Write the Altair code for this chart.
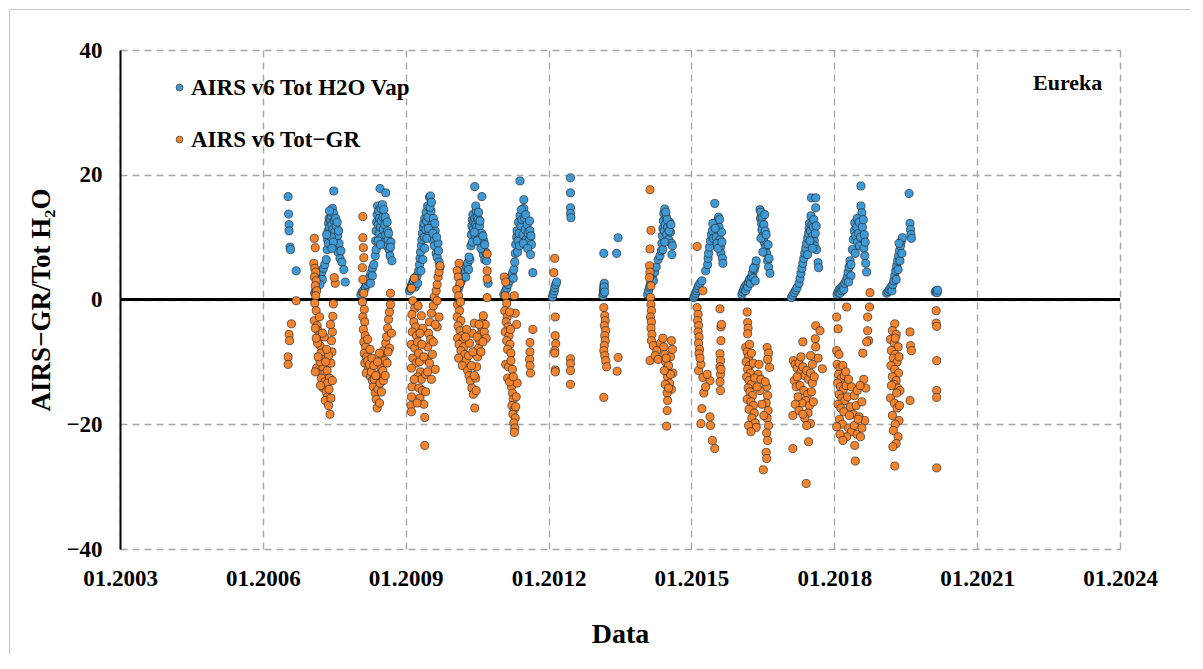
import altair as alt
import pandas as pd

S_H2O = "AIRS v6 Tot H2O Vap"
S_GR = "AIRS v6 Tot\u2212GR"
X_TICKS = [2003, 2006, 2009, 2012, 2015, 2018, 2021, 2024]
Y_TICKS = [-40, -20, 0, 20, 40]

# ---- AIRS v6 Tot H2O Vap (decimal year, value) ----
h2o_2006 = [(2006.53,16.5),(2006.54,13.7),(2006.55,12.0),(2006.55,11.0),(2006.57,8.4),(2006.58,8.0),(2006.70,4.6)]
h2o_2007 = [(2007.09,1.0),(2007.11,1.4),(2007.13,1.9),(2007.15,2.3),(2007.17,2.8),(2007.19,3.3),(2007.21,3.9),(2007.24,4.4),(2007.27,5.0),(2007.30,5.6),(2007.33,6.4),(2007.35,8.0),(2007.36,9.6),(2007.37,11.0),(2007.38,12.2),(2007.39,13.0),(2007.40,11.6),(2007.41,10.4),(2007.42,12.8),(2007.43,14.0),(2007.44,13.4),(2007.45,12.0),(2007.46,14.6),(2007.47,11.2),(2007.49,17.4),(2007.49,13.8),(2007.50,12.6),(2007.51,10.8),(2007.52,9.6),(2007.54,11.8),(2007.55,8.8),(2007.57,10.2),(2007.58,7.6),(2007.60,9.0),(2007.62,6.6),(2007.64,7.8),(2007.66,6.0),(2007.70,4.8),(2007.73,2.8),
            (2007.38,9.0),(2007.40,14.2),(2007.44,10.0),(2007.48,9.2),(2007.53,13.0),(2007.56,12.4),(2007.59,11.0),(2007.45,8.2),(2007.34,10.4),(2007.25,3.2),(2007.20,2.4)]
h2o_2008 = [(2008.06,0.8),(2008.09,1.2),(2008.12,1.5),(2008.15,1.9),(2008.18,2.4),(2008.21,2.9),(2008.24,3.5),(2008.27,4.2),(2008.30,5.0),(2008.33,5.6),(2008.36,7.0),(2008.37,9.4),(2008.38,11.0),(2008.39,12.4),(2008.40,13.6),(2008.41,15.0),(2008.42,12.0),(2008.43,14.2),(2008.44,10.6),(2008.45,13.0),(2008.46,17.8),(2008.47,11.6),(2008.48,14.6),(2008.49,12.6),(2008.50,10.0),(2008.52,13.2),(2008.53,11.2),(2008.55,9.2),(2008.56,12.0),(2008.58,17.1),(2008.58,10.4),(2008.60,8.6),(2008.62,11.0),(2008.63,9.6),(2008.65,8.0),(2008.67,7.0),(2008.69,9.2),(2008.71,6.2),
            (2008.38,8.0),(2008.42,9.4),(2008.47,8.8),(2008.51,15.2),(2008.54,14.4),(2008.57,13.2),(2008.61,12.4),(2008.64,10.6),(2008.68,8.4),(2008.30,3.8),(2008.26,2.6)]
h2o_2009 = [(2009.08,1.4),(2009.10,1.8),(2009.12,2.2),(2009.14,2.6),(2009.16,3.0),(2009.18,3.4),(2009.21,3.2),(2009.24,3.8),(2009.27,4.6),(2009.29,5.6),(2009.30,6.6),(2009.31,7.6),(2009.33,8.6),(2009.34,9.6),(2009.35,10.6),(2009.37,11.6),(2009.38,12.2),(2009.39,10.0),(2009.40,13.0),(2009.42,11.2),(2009.43,14.0),(2009.44,12.6),(2009.46,15.0),(2009.47,13.2),(2009.49,10.8),(2009.50,16.4),(2009.52,16.6),(2009.53,14.2),(2009.55,12.0),(2009.56,9.6),(2009.58,13.0),(2009.60,8.6),(2009.62,11.0),(2009.64,7.4),(2009.66,6.8),(2009.68,9.0),(2009.70,6.0),(2009.72,5.2),
            (2009.32,4.6),(2009.36,6.4),(2009.40,8.2),(2009.44,9.8),(2009.48,11.4),(2009.51,14.8),(2009.54,15.6),(2009.57,10.6),(2009.61,12.2),(2009.65,10.0),(2009.69,7.8),(2009.20,2.0),(2009.25,2.6)]
h2o_2010 = [(2010.10,1.6),(2010.13,2.2),(2010.16,2.8),(2010.19,3.4),(2010.22,4.0),(2010.25,4.6),(2010.28,5.2),(2010.30,5.8),(2010.32,4.8),(2010.35,6.4),(2010.37,8.6),(2010.38,10.4),(2010.39,11.8),(2010.40,12.8),(2010.41,13.6),(2010.42,11.2),(2010.43,12.4),(2010.45,18.1),(2010.45,13.0),(2010.46,10.2),(2010.47,12.0),(2010.48,14.2),(2010.49,11.6),(2010.50,13.2),(2010.51,10.6),(2010.52,12.8),(2010.54,9.8),(2010.55,11.8),(2010.57,9.0),(2010.59,10.6),(2010.60,16.5),(2010.61,8.0),(2010.63,7.2),(2010.64,9.4),(2010.66,6.4),(2010.68,7.6),(2010.70,6.2),(2010.73,2.6),
            (2010.40,9.2),(2010.44,10.8),(2010.47,15.0),(2010.50,9.4),(2010.53,14.0),(2010.56,12.6),(2010.58,8.2),(2010.62,10.2),(2010.66,8.8),(2010.26,3.6),(2010.33,6.8)]
h2o_2011 = [(2011.06,0.8),(2011.09,1.3),(2011.12,1.8),(2011.15,2.4),(2011.18,3.0),(2011.21,3.6),(2011.24,4.2),(2011.27,4.8),(2011.29,6.0),(2011.30,7.4),(2011.31,8.8),(2011.33,10.0),(2011.34,11.0),(2011.36,9.4),(2011.37,12.4),(2011.38,10.6),(2011.40,19.0),(2011.40,13.4),(2011.42,11.8),(2011.44,12.8),(2011.46,10.4),(2011.48,16.0),(2011.48,14.6),(2011.50,13.0),(2011.51,11.2),(2011.53,9.6),(2011.55,12.0),(2011.57,10.6),(2011.59,9.4),(2011.61,11.0),(2011.63,10.2),(2011.64,8.8),(2011.67,4.3),
            (2011.35,7.6),(2011.39,8.6),(2011.43,14.4),(2011.47,9.0),(2011.52,13.6),(2011.56,8.2),(2011.60,12.6),(2011.62,7.2),(2011.26,3.4)]
h2o_2012 = [(2012.08,0.4),(2012.10,0.9),(2012.12,1.4),(2012.13,1.9),(2012.15,2.4),(2012.17,2.8),(2012.46,19.5),(2012.46,17.1),(2012.46,14.7),(2012.46,13.8),(2012.47,13.1)]
h2o_2013 = [(2013.14,0.6),(2013.15,1.0),(2013.15,1.4),(2013.16,1.8),(2013.16,2.2),(2013.17,2.6),(2013.17,2.0),(2013.18,1.2),(2013.16,7.4),(2013.43,7.4),(2013.46,9.9)]
h2o_2014 = [(2014.08,0.8),(2014.10,1.4),(2014.12,2.0),(2014.14,2.6),(2014.16,3.2),(2014.18,3.8),(2014.20,3.0),(2014.23,4.4),(2014.26,5.2),(2014.30,6.4),(2014.34,7.0),(2014.37,7.8),(2014.38,9.0),(2014.39,10.2),(2014.40,11.4),(2014.41,12.6),(2014.42,13.8),(2014.43,11.0),(2014.44,14.5),(2014.45,12.0),(2014.47,13.2),(2014.48,10.4),(2014.50,11.6),(2014.52,9.6),(2014.54,12.4),(2014.56,10.8),(2014.58,9.0),(2014.60,8.6),
            (2014.40,8.0),(2014.44,9.2),(2014.46,14.0),(2014.49,12.8),(2014.53,11.0),(2014.57,12.0),(2014.59,7.2)]
h2o_2015 = [(2015.05,0.3),(2015.07,0.6),(2015.09,1.0),(2015.11,1.4),(2015.13,1.8),(2015.15,2.2),(2015.18,2.6),(2015.22,3.0),(2015.30,4.6),(2015.34,5.6),(2015.35,6.6),(2015.36,7.4),(2015.38,8.4),(2015.40,9.4),(2015.42,10.4),(2015.44,11.0),(2015.46,9.8),(2015.49,15.4),(2015.52,10.0),(2015.55,12.6),(2015.57,13.2),(2015.58,11.6),(2015.60,9.6),(2015.61,8.4),(2015.62,7.4),(2015.63,10.8),(2015.65,6.6),(2015.66,5.8),
            (2015.45,12.2),(2015.50,11.4),(2015.54,9.0),(2015.56,8.2),(2015.59,12.8),(2015.64,9.2)]
h2o_2016 = [(2016.06,0.8),(2016.08,1.2),(2016.10,1.6),(2016.12,2.0),(2016.14,1.4),(2016.16,2.4),(2016.18,2.0),(2016.20,2.8),(2016.22,3.2),(2016.24,2.6),(2016.26,3.6),(2016.28,4.2),(2016.30,3.4),(2016.32,4.8),(2016.34,5.4),(2016.36,6.2),(2016.44,14.4),(2016.45,13.0),(2016.46,14.0),(2016.47,12.2),(2016.48,11.2),(2016.49,13.2),(2016.50,10.2),(2016.52,12.0),(2016.53,9.2),(2016.55,11.0),(2016.56,8.4),(2016.58,7.4),(2016.60,6.2),(2016.62,5.2),(2016.65,4.2),
            (2016.46,9.8),(2016.50,7.6),(2016.54,13.6),(2016.57,10.4),(2016.61,8.8),(2016.63,6.6),(2016.30,5.0),(2016.34,3.0)]
h2o_2017 = [(2017.10,0.3),(2017.13,0.7),(2017.16,1.1),(2017.19,1.5),(2017.22,1.9),(2017.26,2.6),(2017.28,3.4),(2017.30,4.2),(2017.32,5.0),(2017.34,5.8),(2017.36,6.6),(2017.38,7.4),(2017.40,8.2),(2017.42,9.0),(2017.44,9.8),(2017.46,10.6),(2017.47,11.4),(2017.48,12.2),(2017.50,11.0),(2017.52,16.3),(2017.53,12.0),(2017.55,10.2),(2017.56,11.6),(2017.58,9.4),(2017.59,8.6),(2017.61,16.3),(2017.61,14.7),(2017.63,8.0),(2017.66,5.9),(2017.67,5.1),
            (2017.44,7.2),(2017.49,9.4),(2017.51,13.4),(2017.54,8.2),(2017.57,12.8),(2017.60,10.6),(2017.62,11.8)]
h2o_2018 = [(2018.06,0.8),(2018.08,1.2),(2018.10,1.6),(2018.12,1.0),(2018.14,1.8),(2018.16,1.4),(2018.18,2.2),(2018.20,1.6),(2018.22,2.6),(2018.25,3.0),(2018.27,3.6),(2018.29,4.4),(2018.31,5.2),(2018.33,6.2),(2018.35,5.6),(2018.38,8.0),(2018.40,9.6),(2018.42,11.0),(2018.43,12.3),(2018.45,10.2),(2018.47,11.6),(2018.49,9.2),(2018.51,10.6),(2018.53,8.6),(2018.56,18.2),(2018.56,15.0),(2018.58,13.9),(2018.60,9.8),(2018.62,8.2),(2018.64,7.0),(2018.66,5.8),(2018.68,4.4),
            (2018.44,7.4),(2018.48,13.0),(2018.52,12.4),(2018.55,10.0),(2018.59,11.6),(2018.61,12.8),(2018.63,10.4),(2018.65,9.2),(2018.35,3.8),(2018.30,2.8)]
h2o_2019 = [(2019.10,1.0),(2019.13,1.3),(2019.16,1.6),(2019.19,2.0),(2019.21,1.4),(2019.23,2.4),(2019.25,3.0),(2019.27,3.8),(2019.29,4.6),(2019.31,5.4),(2019.33,6.2),(2019.35,7.0),(2019.37,7.8),(2019.39,8.6),(2019.41,9.4),(2019.43,9.9),(2019.57,17.0),(2019.59,12.2),(2019.60,11.2),(2019.61,10.4),(2019.62,9.8),
            (2019.30,3.2),(2019.34,4.8),(2019.38,6.2),(2019.42,7.4),(2019.36,9.0)]
h2o_2020 = [(2020.12,1.2),(2020.14,1.4),(2020.16,1.1),(2020.17,1.5)]

# ---- AIRS v6 Tot-GR (decimal year, value) ----
gr_2006 = [(2006.70,-0.2),(2006.60,-3.9),(2006.55,-5.6),(2006.56,-6.6),(2006.53,-9.2),(2006.53,-10.4)]
gr_2007 = [(2007.08,9.8),(2007.10,8.3),(2007.07,5.8),(2007.09,5.0),(2007.11,4.4),(2007.08,3.6),(2007.12,3.0),(2007.10,2.2),(2007.13,1.4),(2007.11,0.6),(2007.09,-0.6),(2007.12,-1.8),(2007.08,-3.4),(2007.14,-4.2),(2007.16,-5.0),(2007.10,-4.6),(2007.18,-6.2),(2007.20,-7.4),(2007.15,-7.0),(2007.22,-8.6),(2007.13,-11.0),(2007.10,-11.6),(2007.24,-9.6),(2007.26,-10.8),(2007.28,-12.0),(2007.23,-12.6),(2007.30,-13.2),(2007.27,-14.2),(2007.33,-14.8),(2007.36,-15.6),(2007.31,-16.2),(2007.38,-17.0),(2007.41,-18.4),(2007.35,-11.4),(2007.40,-12.6),(2007.43,-10.2),(2007.45,-8.4),(2007.44,-6.6),(2007.46,-5.2),(2007.42,-4.0),(2007.47,-2.7),(2007.48,-0.7),(2007.52,2.6),(2007.50,3.5),(2007.38,-9.0),(2007.34,-8.0),(2007.29,-6.0),(2007.19,-2.8),
           (2007.20,-10.0),(2007.25,-5.4),(2007.32,-10.0),(2007.36,-13.4),(2007.39,-14.4),(2007.43,-15.8),(2007.46,-13.0),(2007.16,-9.2),(2007.21,-13.8),(2007.12,-6.2)]
gr_2008 = [(2008.10,13.3),(2008.10,9.9),(2008.11,8.3),(2008.12,6.7),(2008.09,5.1),(2008.10,3.2),(2008.12,1.0),(2008.09,-0.4),(2008.13,-1.6),(2008.10,-2.8),(2008.14,-3.6),(2008.11,-4.8),(2008.15,-5.8),(2008.12,-6.8),(2008.16,-7.6),(2008.13,-8.6),(2008.18,-9.2),(2008.14,-10.2),(2008.20,-9.8),(2008.22,-11.0),(2008.17,-11.8),(2008.24,-10.4),(2008.26,-12.4),(2008.28,-11.6),(2008.30,-13.0),(2008.32,-14.0),(2008.34,-12.8),(2008.36,-15.0),(2008.38,-16.0),(2008.40,-17.4),(2008.42,-14.4),(2008.44,-12.0),(2008.46,-13.4),(2008.48,-10.8),(2008.50,-9.4),(2008.52,-11.4),(2008.54,-8.2),(2008.56,-9.8),(2008.58,-7.0),(2008.60,-6.0),(2008.62,-4.6),(2008.64,-3.2),(2008.66,-2.0),(2008.68,-0.8),(2008.68,1.0),(2008.70,-5.4),(2008.66,-7.8),(2008.45,-16.6),
           (2008.20,-6.4),(2008.25,-8.0),(2008.29,-9.4),(2008.33,-10.6),(2008.37,-12.2),(2008.41,-10.0),(2008.45,-8.6),(2008.49,-14.8),(2008.53,-13.0),(2008.57,-12.2),(2008.61,-10.2),(2008.63,-8.4)]
gr_2009 = [(2009.18,3.4),(2009.12,1.8),(2009.15,-0.2),(2009.19,-1.4),(2009.13,-2.4),(2009.17,-3.6),(2009.21,-4.4),(2009.14,-5.2),(2009.23,-5.8),(2009.12,-7.2),(2009.19,-7.8),(2009.25,-6.8),(2009.15,-9.4),(2009.27,-8.6),(2009.22,-10.2),(2009.12,-11.0),(2009.29,-10.0),(2009.31,-11.6),(2009.25,-12.4),(2009.33,-12.8),(2009.13,-14.0),(2009.28,-14.2),(2009.35,-14.6),(2009.12,-15.6),(2009.30,-15.8),(2009.11,-17.0),(2009.12,-18.0),(2009.38,-16.8),(2009.40,-18.9),(2009.40,-23.4),(2009.42,-12.0),(2009.44,-9.6),(2009.46,-7.6),(2009.48,-5.4),(2009.50,-3.6),(2009.52,-6.4),(2009.54,-2.2),(2009.56,-8.8),(2009.58,-1.0),(2009.60,0.4),(2009.62,-11.2),(2009.64,1.4),(2009.66,2.4),(2009.68,3.6),(2009.70,4.4),(2009.72,5.4),(2009.70,-2.8),(2009.66,-4.4),(2009.36,-4.6),(2009.33,-2.6),(2009.26,-1.0),
           (2009.30,-5.4),(2009.34,-7.2),(2009.38,-9.2),(2009.42,-14.8),(2009.46,-11.6),(2009.50,-10.2),(2009.54,-12.8),(2009.58,-6.8),(2009.62,-4.0),(2009.66,-0.2),(2009.18,-12.8),(2009.24,-16.6)]
gr_2010 = [(2010.12,5.8),(2010.08,4.6),(2010.10,3.6),(2010.14,2.6),(2010.07,1.6),(2010.11,0.6),(2010.09,-0.8),(2010.13,-1.8),(2010.08,-2.8),(2010.16,-3.4),(2010.10,-4.2),(2010.14,-5.0),(2010.18,-5.8),(2010.09,-6.2),(2010.20,-6.6),(2010.12,-7.2),(2010.22,-7.6),(2010.16,-8.2),(2010.24,-8.8),(2010.11,-9.4),(2010.27,-9.8),(2010.19,-10.6),(2010.30,-11.4),(2010.33,-12.2),(2010.36,-13.0),(2010.39,-14.2),(2010.42,-15.2),(2010.45,-17.4),(2010.47,-12.6),(2010.49,-10.8),(2010.51,-9.2),(2010.53,-7.8),(2010.55,-6.6),(2010.57,-5.6),(2010.59,-4.4),(2010.61,-3.6),(2010.63,-2.6),(2010.65,-5.2),(2010.67,-4.0),(2010.69,-6.2),(2010.71,0.3),(2010.71,3.3),(2010.71,4.6),(2010.71,7.3),(2010.44,-3.8),(2010.40,-5.4),(2010.34,-7.0),(2010.28,-4.8),
           (2010.26,-6.0),(2010.32,-9.0),(2010.38,-10.6),(2010.41,-8.4),(2010.44,-12.2),(2010.48,-14.6),(2010.50,-6.0),(2010.54,-4.0),(2010.58,-8.4),(2010.62,-6.8),(2010.15,-0.4)]
gr_2011 = [(2011.07,3.6),(2011.10,2.8),(2011.09,0.6),(2011.12,-0.6),(2011.08,-1.8),(2011.13,-2.8),(2011.11,-3.6),(2011.15,-4.4),(2011.09,-5.2),(2011.17,-5.8),(2011.12,-6.6),(2011.19,-7.2),(2011.14,-8.0),(2011.21,-8.6),(2011.10,-10.4),(2011.16,-10.8),(2011.24,-11.2),(2011.28,0.6),(2011.22,-14.0),(2011.24,-15.0),(2011.26,-16.0),(2011.23,-17.0),(2011.28,-17.6),(2011.25,-18.4),(2011.30,-19.0),(2011.27,-19.8),(2011.29,-20.6),(2011.28,-21.3),(2011.32,-15.6),(2011.34,-13.4),(2011.61,-6.9),(2011.61,-8.4),(2011.60,-9.6),(2011.61,-10.6),(2011.62,-11.8),(2011.67,-4.8),(2011.30,-2.2),(2011.33,-4.0),
           (2011.18,-2.0),(2011.20,-4.8),(2011.14,-12.6),(2011.18,-13.2),(2011.26,-12.4),(2011.31,-17.2),(2011.21,-9.8)]
gr_2012 = [(2012.13,6.6),(2012.11,4.3),(2012.14,-2.8),(2012.14,-5.8),(2012.15,-7.1),(2012.13,-8.2),(2012.13,-8.6),(2012.14,-11.3),(2012.14,-11.6),(2012.46,-9.5),(2012.46,-10.3),(2012.46,-11.4),(2012.46,-13.6)]
gr_2013 = [(2013.16,-1.3),(2013.18,-2.6),(2013.19,-3.4),(2013.17,-4.2),(2013.20,-5.0),(2013.18,-5.8),(2013.19,-6.6),(2013.17,-7.4),(2013.16,-8.2),(2013.18,-9.0),(2013.20,-9.8),(2013.22,-10.8),(2013.46,-9.3),(2013.44,-11.5),(2013.16,-15.7)]
gr_2014 = [(2014.13,17.6),(2014.15,11.1),(2014.13,8.1),(2014.12,5.4),(2014.13,4.4),(2014.12,3.5),(2014.15,2.2),(2014.14,0.3),(2014.15,-0.8),(2014.16,-1.8),(2014.14,-2.8),(2014.16,-3.6),(2014.15,-4.6),(2014.17,-5.6),(2014.16,-6.6),(2014.20,-7.4),(2014.13,-9.8),(2014.27,-8.2),(2014.24,-9.0),(2014.30,-9.6),(2014.35,-7.0),(2014.40,-6.2),(2014.42,-7.6),(2014.44,-8.8),(2014.46,-10.0),(2014.48,-11.2),(2014.50,-12.4),(2014.52,-10.6),(2014.54,-13.4),(2014.56,-9.2),(2014.58,-14.4),(2014.60,-8.0),(2014.61,-11.8),(2014.49,-15.0),(2014.50,-16.2),(2014.49,-17.8),(2014.48,-20.3),(2014.45,-13.6),
           (2014.47,-9.4),(2014.52,-14.2),(2014.56,-12.0),(2014.43,-11.4),(2014.58,-6.6)]
gr_2015 = [(2015.12,8.5),(2015.24,1.4),(2015.12,-1.3),(2015.14,-2.4),(2015.13,-3.4),(2015.15,-4.2),(2015.14,-5.2),(2015.16,-6.0),(2015.15,-7.0),(2015.17,-8.0),(2015.16,-8.7),(2015.15,-11.4),(2015.20,-10.4),(2015.24,-12.5),(2015.39,-13.0),(2015.33,-12.0),(2015.22,-17.5),(2015.20,-19.9),(2015.39,-18.8),(2015.40,-20.2),(2015.44,-22.6),(2015.49,-23.9),(2015.60,-1.5),(2015.62,-4.4),(2015.62,-6.6),(2015.60,-8.7),(2015.61,-9.8),(2015.60,-10.8),(2015.61,-12.0),(2015.60,-13.2),(2015.61,-14.6),(2015.63,-4.0),
           (2015.18,-9.4),(2015.26,-15.0),(2015.30,-14.0),(2015.62,-11.2)]
gr_2016 = [(2016.17,-2.0),(2016.18,-3.7),(2016.19,-4.6),(2016.18,-5.5),(2016.14,-7.7),(2016.17,-8.4),(2016.20,-9.2),(2016.15,-10.0),(2016.22,-10.6),(2016.18,-11.2),(2016.24,-11.8),(2016.16,-12.4),(2016.21,-13.0),(2016.26,-13.6),(2016.19,-14.2),(2016.23,-14.8),(2016.28,-15.4),(2016.17,-16.0),(2016.25,-16.4),(2016.30,-17.0),(2016.21,-17.6),(2016.32,-18.2),(2016.27,-19.0),(2016.34,-19.8),(2016.36,-20.5),(2016.59,-7.7),(2016.62,-8.6),(2016.60,-9.6),(2016.64,-10.9),(2016.58,-14.0),(2016.60,-15.4),(2016.57,-16.6),(2016.61,-17.8),(2016.59,-19.0),(2016.62,-20.2),(2016.58,-21.4),(2016.60,-22.6),(2016.57,-24.5),(2016.58,-25.5),(2016.51,-27.3),(2016.40,-12.0),(2016.44,-14.6),(2016.48,-16.8),
           (2016.22,-7.2),(2016.26,-8.6),(2016.30,-10.2),(2016.33,-12.6),(2016.38,-14.0),(2016.42,-10.4),(2016.46,-12.8),(2016.52,-18.6),(2016.55,-13.2),(2016.20,-20.2),(2016.25,-21.2)]
gr_2017 = [(2017.34,-6.8),(2017.60,-6.3),(2017.61,-4.2),(2017.61,-7.6),(2017.75,-11.1),(2017.14,-9.8),(2017.18,-10.4),(2017.22,-11.0),(2017.26,-10.2),(2017.30,-11.6),(2017.34,-10.8),(2017.38,-12.2),(2017.42,-11.4),(2017.46,-12.8),(2017.50,-11.8),(2017.54,-13.4),(2017.58,-12.4),(2017.16,-13.0),(2017.20,-14.0),(2017.28,-13.8),(2017.36,-14.6),(2017.44,-15.2),(2017.52,-14.8),(2017.40,-16.2),(2017.48,-17.0),(2017.32,-16.6),(2017.24,-15.6),(2017.56,-16.4),(2017.45,-18.2),(2017.38,-19.0),(2017.50,-19.9),(2017.13,-18.6),(2017.13,-23.9),(2017.46,-22.8),(2017.41,-29.5),(2017.66,-9.4),(2017.70,-5.0),
           (2017.18,-16.8),(2017.26,-17.8),(2017.34,-18.4),(2017.42,-20.2),(2017.50,-9.0),(2017.54,-10.4),(2017.30,-9.2),(2017.22,-12.4)]
gr_2018 = [(2018.75,1.1),(2018.26,-1.2),(2018.74,-1.2),(2018.05,-2.8),(2018.70,-2.8),(2018.08,-4.7),(2018.70,-5.0),(2018.72,-6.6),(2018.68,-6.8),(2018.60,-8.6),(2018.05,-8.2),(2018.10,-8.8),(2018.06,-10.4),(2018.12,-11.0),(2018.18,-10.6),(2018.09,-12.0),(2018.15,-12.6),(2018.21,-12.2),(2018.07,-13.4),(2018.13,-14.0),(2018.19,-14.4),(2018.25,-13.8),(2018.10,-15.2),(2018.16,-15.8),(2018.22,-16.2),(2018.28,-15.6),(2018.08,-16.8),(2018.14,-17.4),(2018.20,-18.0),(2018.34,-17.2),(2018.40,-18.4),(2018.46,-17.0),(2018.52,-18.8),(2018.58,-16.4),(2018.64,-19.4),(2018.11,-19.2),(2018.17,-20.0),(2018.05,-20.4),(2018.30,-20.6),(2018.36,-21.2),(2018.42,-20.2),(2018.48,-21.6),(2018.55,-22.0),(2018.43,-23.4),(2018.44,-25.9),(2018.62,-12.8),(2018.66,-14.2),
           (2018.24,-11.6),(2018.30,-12.8),(2018.36,-14.0),(2018.42,-15.4),(2018.48,-14.6),(2018.54,-13.8),(2018.58,-20.6),(2018.50,-19.2),(2018.32,-18.6),(2018.26,-22.0),(2018.12,-21.6),(2018.18,-22.6)]
gr_2019 = [(2019.27,-3.9),(2019.22,-5.0),(2019.30,-5.6),(2019.18,-6.4),(2019.26,-7.0),(2019.34,-7.6),(2019.20,-8.2),(2019.28,-8.8),(2019.24,-9.4),(2019.32,-10.0),(2019.19,-10.6),(2019.27,-11.2),(2019.35,-11.8),(2019.22,-12.4),(2019.30,-13.0),(2019.25,-13.6),(2019.33,-14.2),(2019.38,-14.6),(2019.59,-5.2),(2019.60,-7.4),(2019.62,-8.2),(2019.59,-16.2),(2019.18,-15.8),(2019.26,-16.6),(2019.32,-17.4),(2019.22,-18.6),(2019.36,-19.4),(2019.28,-20.0),(2019.24,-21.0),(2019.34,-22.0),(2019.30,-23.1),(2019.27,-26.7),
           (2019.36,-9.2),(2019.31,-15.0),(2019.20,-13.8),(2019.28,-6.2),(2019.37,-17.0),(2019.23,-23.6)]
gr_2020 = [(2020.14,-1.8),(2020.14,-3.8),(2020.15,-4.3),(2020.15,-9.8),(2020.15,-14.6),(2020.15,-15.7),(2020.15,-27.0)]

h2o_seasons = [h2o_2006, h2o_2007, h2o_2008, h2o_2009, h2o_2010, h2o_2011, h2o_2012,
               h2o_2013, h2o_2014, h2o_2015, h2o_2016, h2o_2017, h2o_2018, h2o_2019, h2o_2020]
gr_seasons = [gr_2006, gr_2007, gr_2008, gr_2009, gr_2010, gr_2011, gr_2012,
              gr_2013, gr_2014, gr_2015, gr_2016, gr_2017, gr_2018, gr_2019, gr_2020]

rows = []
for season in h2o_seasons:
    for d, v in season:
        rows.append({"year": d, "value": v, "series": S_H2O})
for season in gr_seasons:
    for d, v in season:
        rows.append({"year": d, "value": v, "series": S_GR})
df = pd.DataFrame(rows)

FONT = "Liberation Serif"
GRID = "#a6a6a6"

x_enc = alt.X("year:Q",
              scale=alt.Scale(domain=[2003, 2024], nice=False, zero=False),
              axis=alt.Axis(values=X_TICKS, labelExpr="'01.' + datum.value",
                            title="Data", grid=True, gridDash=[7, 5], gridColor=GRID,
                            gridWidth=1.4, domain=False, ticks=False, labelPadding=18,
                            labelFlush=False, titlePadding=30,
                            labelFont=FONT, labelFontSize=23, labelFontWeight="bold",
                            labelColor="black", titleFont=FONT, titleFontSize=28,
                            titleFontWeight="bold", titleColor="black"))
y_enc = alt.Y("value:Q",
              scale=alt.Scale(domain=[-40, 40], nice=False),
              axis=alt.Axis(values=Y_TICKS, title="AIRS\u2212GR/Tot H\u2082O", grid=True,
                            gridDash=[7, 5], gridColor=GRID, gridWidth=1.4,
                            domain=True, domainColor="black", domainWidth=2,
                            ticks=False, labelPadding=18, labelFlush=False, titlePadding=10,
                            labelFont=FONT, labelFontSize=23, labelFontWeight="bold",
                            labelColor="black", titleFont=FONT, titleFontSize=27,
                            titleFontWeight="bold", titleColor="black"))

points = alt.Chart(df).mark_circle(size=66, opacity=1, stroke="#2b2b2b", strokeWidth=0.7).encode(
    x=x_enc,
    y=y_enc,
    color=alt.Color("series:N",
                    scale=alt.Scale(domain=[S_H2O, S_GR], range=["#3d9ad6", "#f5832c"]),
                    sort=[S_H2O, S_GR],
                    legend=alt.Legend(title=None, orient="none", legendX=48, legendY=26,
                                      symbolType="circle", symbolSize=45,
                                      symbolStrokeColor="#2b2b2b", symbolStrokeWidth=0.7,
                                      labelFont=FONT, labelFontSize=23, labelFontWeight="bold",
                                      labelColor="black", labelOffset=0, labelLimit=0,
                                      rowPadding=28, padding=0)),
)

zero = alt.Chart(pd.DataFrame({"v": [0]})).mark_rule(color="black", strokeWidth=3).encode(
    y=alt.Y("v:Q")
)

station = alt.Chart(pd.DataFrame({"year": [2022.9], "value": [34.7], "t": ["Eureka"]})).mark_text(
    font=FONT, fontSize=22, fontWeight="bold", color="black"
).encode(x="year:Q", y="value:Q", text="t:N")

border = alt.Chart(pd.DataFrame({"a": [0]})).mark_rect(
    fillOpacity=0, stroke="#c8c8c8", strokeWidth=1.2
).encode(x=alt.value(-110.5), x2=alt.value(1074), y=alt.value(-40.5), y2=alt.value(609))

chart = alt.layer(border, zero, points, station).properties(
    width=1000, height=499,
    padding={"left": 112, "top": 42, "right": 70, "bottom": 105},
    autosize=alt.AutoSizeParams(type="none"),
    background="white",
).configure_view(strokeWidth=0)

chart.save("out.html", embed_options={"renderer": "svg", "actions": False})
